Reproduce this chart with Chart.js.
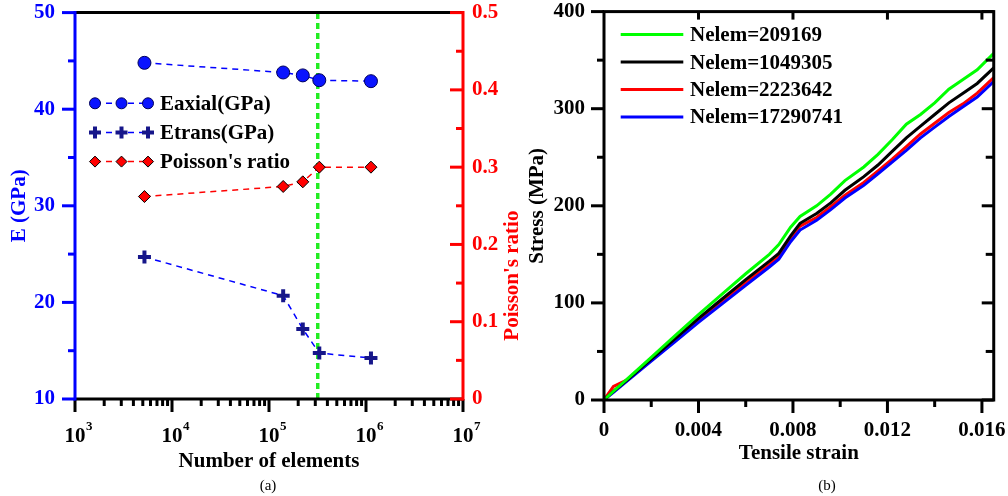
<!DOCTYPE html>
<html>
<head>
<meta charset="utf-8">
<script src="https://cdn.jsdelivr.net/npm/chart.js@4"></script>
<style>
html, body { margin: 0; padding: 0; background: #fff; }
body { width: 1008px; height: 496px; position: relative; overflow: hidden; font-family: "Liberation Serif", "Times New Roman", serif; }
#wrapA { position: absolute; left: 0; top: -20px; width: 530px; height: 516px; }
#wrapB { position: absolute; left: 520px; top: -20px; width: 504px; height: 516px; }
.cap { position: absolute; top: 478px; font-size: 15px; line-height: 15px; transform: translateX(-50%); }
</style>
</head>
<body>
<div id="wrapA"><canvas id="convChart"></canvas></div>
<div id="wrapB"><canvas id="stressChart"></canvas></div>
<div class="cap" style="left:268px">(a)</div>
<div class="cap" style="left:827px">(b)</div>
<script>
const SERIF = '"Liberation Serif", "Times New Roman", serif';

// (a) moduli and Poisson's ratio against mesh size
const nElements = [5200, 140000, 223000, 330000, 1125000];
const eAxial = [44.8, 43.8, 43.5, 43.0, 42.9];
const eTrans = [24.7, 20.7, 17.25, 14.75, 14.25];
const poisson = [0.262, 0.275, 0.281, 0.300, 0.300];
const chosenMesh = 318000;
const xDecades = [1e3, 1e4, 1e5, 1e6, 1e7];
const eTicks = [10, 20, 30, 40, 50];
const nuTicks = [0, 0.1, 0.2, 0.3, 0.4, 0.5];

// (b) stress-strain curves for each mesh
const meshLabels = ['Nelem=209169', 'Nelem=1049305', 'Nelem=2223642', 'Nelem=17290741'];
const meshColors = ['#00ff00', '#000000', '#ff0000', '#0000ff'];
const strain = [0, 0.0004, 0.001, 0.002, 0.003, 0.004, 0.005, 0.006, 0.007, 0.0074, 0.0079, 0.0083,
  0.009, 0.0096, 0.0102, 0.011, 0.0116, 0.0122, 0.0128, 0.0134, 0.014, 0.0146, 0.0152, 0.0158, 0.0165];
const stress209169 = [0, 9, 22, 44, 66, 88, 109, 130, 150, 160, 178, 189, 200, 212, 226, 240, 253, 268, 284, 294, 306, 320, 330, 340, 357];
const stress1049305 = [0, 9, 21, 42, 63, 84, 104, 124, 143, 151, 169, 182, 192, 203, 216, 230, 242, 256, 270, 282, 294, 306, 316, 326, 342];
const stress2223642 = [0, 14, 21, 41, 62, 82, 102, 121, 140, 148, 166, 179, 188, 199, 211, 224, 236, 248, 261, 274, 285, 296, 305, 316, 332];
const stress17290741 = [0, 8, 20, 40, 60, 80, 99, 118, 137, 145, 163, 175, 185, 196, 208, 221, 233, 245, 257, 270, 281, 292, 302, 312, 328];
const strainTicks = [0, 0.004, 0.008, 0.012, 0.016];
const stressTicks = [0, 100, 200, 300, 400];

const pts = (xs, ys) => xs.map((x, i) => ({x: x, y: ys[i]}));
const boldFont = size => ({family: SERIF, size: size, weight: 'bold'});

function seg(ctx, x1, y1, x2, y2) {
  ctx.beginPath();
  ctx.moveTo(x1, y1);
  ctx.lineTo(x2, y2);
  ctx.stroke();
}

function marker(ctx, ds, x, y, r) {
  ctx.fillStyle = ds.pointBackgroundColor;
  ctx.strokeStyle = ds.pointBorderColor;
  ctx.lineWidth = ds.pointBorderWidth;
  Chart.helpers.drawPoint(ctx, {pointStyle: ds.pointStyle, radius: r, borderWidth: ds.pointBorderWidth, rotation: 0}, x, y);
}

const convFrame = {
  id: 'convFrame',
  afterDraw(chart) {
    const {ctx, chartArea: a, scales} = chart;
    const xs = scales.x, ys = scales.y, y1 = scales.y1;
    ctx.save();
    ctx.lineWidth = 3;
    ctx.strokeStyle = '#000';
    seg(ctx, a.left, a.top, a.right, a.top);
    seg(ctx, a.left, a.bottom, a.right, a.bottom);
    xDecades.forEach((d, i) => {
      const px = xs.getPixelForValue(d);
      seg(ctx, px, a.bottom, px, a.bottom + 13);
      if (i < xDecades.length - 1) {
        for (let m = 2; m < 10; m++) {
          const p = xs.getPixelForValue(d * m);
          seg(ctx, p, a.bottom, p, a.bottom + 7);
        }
      }
    });
    // blue E axis, ticks outward
    ctx.strokeStyle = '#0000ff';
    seg(ctx, a.left, a.top - 1.5, a.left, a.bottom + 1.5);
    for (let v = 10; v <= 50; v += 5) {
      const py = ys.getPixelForValue(v);
      seg(ctx, a.left - (v % 10 === 0 ? 13 : 7), py, a.left, py);
    }
    // red Poisson axis, ticks inward
    ctx.strokeStyle = '#ff0000';
    seg(ctx, a.right, a.top - 1.5, a.right, a.bottom + 1.5);
    for (let k = 0; k <= 10; k++) {
      const py = y1.getPixelForValue(k * 0.05);
      seg(ctx, a.right - (k % 2 === 0 ? 13 : 7), py, a.right, py);
    }
    // decade labels with exponent
    ctx.fillStyle = '#000';
    xDecades.forEach(d => {
      const px = xs.getPixelForValue(d);
      ctx.font = 'bold 21px ' + SERIF;
      ctx.textAlign = 'center';
      ctx.textBaseline = 'alphabetic';
      const w = ctx.measureText('10').width;
      ctx.fillText('10', px, a.bottom + 43);
      ctx.font = 'bold 13px ' + SERIF;
      ctx.textAlign = 'left';
      ctx.fillText(String(Math.round(Math.log10(d))), px + w / 2 + 0.5, a.bottom + 31);
    });
    // right axis title, reading upwards
    ctx.save();
    ctx.translate(513, a.top + 263);
    ctx.rotate(-Math.PI / 2);
    ctx.font = 'bold 21px ' + SERIF;
    ctx.fillStyle = '#ff0000';
    ctx.textAlign = 'center';
    ctx.textBaseline = 'middle';
    ctx.fillText("Poisson's ratio", 0, 0);
    ctx.restore();
    // legend
    const rows = [90.7, 120, 149];
    const mx = [95, 121.5, 148];
    for (let i = 0; i < 3; i++) {
      const ds = chart.data.datasets[i];
      const ry = a.top + rows[i];
      ctx.strokeStyle = ds.borderColor;
      ctx.lineWidth = 1.5;
      ctx.setLineDash([6, 5]);
      seg(ctx, mx[0], ry, mx[2], ry);
      ctx.setLineDash([]);
      mx.forEach(x => marker(ctx, ds, x, ry, ds.pointStyle === 'cross' ? 6 : 5.5));
      ctx.font = 'bold 21px ' + SERIF;
      ctx.fillStyle = '#000';
      ctx.textAlign = 'left';
      ctx.textBaseline = 'middle';
      ctx.fillText(ds.label, 160, ry + 1);
    }
    ctx.restore();
  }
};

new Chart(document.getElementById('convChart'), {
  type: 'line',
  data: {
    datasets: [
      {
        label: 'Eaxial(GPa)', data: pts(nElements, eAxial), yAxisID: 'y',
        borderColor: '#0000ff', borderWidth: 1.5, borderDash: [6, 5],
        pointStyle: 'circle', pointRadius: 6.5, pointBackgroundColor: '#0a14ff', pointBorderColor: '#00005a', pointBorderWidth: 1
      },
      {
        label: 'Etrans(GPa)', data: pts(nElements, eTrans), yAxisID: 'y',
        borderColor: '#0000ff', borderWidth: 1.5, borderDash: [6, 5],
        pointStyle: 'cross', pointRadius: 6.5, pointBackgroundColor: '#16168a', pointBorderColor: '#16168a', pointBorderWidth: 4
      },
      {
        label: "Poisson's ratio", data: pts(nElements, poisson), yAxisID: 'y1',
        borderColor: '#ff0000', borderWidth: 1.5, borderDash: [6, 5],
        pointStyle: 'rectRot', pointRadius: 6, pointBackgroundColor: '#ff0000', pointBorderColor: '#000', pointBorderWidth: 1
      },
      {
        label: 'chosen mesh', data: [{x: chosenMesh, y: 10}, {x: chosenMesh, y: 50}], yAxisID: 'y',
        borderColor: '#22ee22', borderWidth: 3.5, borderDash: [6, 4], pointRadius: 0
      }
    ]
  },
  options: {
    responsive: true,
    maintainAspectRatio: false,
    animation: false,
    layout: {padding: {top: 12, left: 0, right: 0, bottom: 0}},
    plugins: {legend: {display: false}, tooltip: {enabled: false}},
    scales: {
      x: {
        type: 'logarithmic', min: 1e3, max: 1e7,
        grid: {display: false, drawTicks: false}, border: {display: false},
        ticks: {display: false},
        afterFit: s => { s.height = 97; },
        title: {display: true, text: 'Number of elements', color: '#000', font: boldFont(21), padding: {top: 0, bottom: 22}}
      },
      y: {
        position: 'left', min: 10, max: 50,
        afterBuildTicks: s => { s.ticks = eTicks.map(v => ({value: v})); },
        grid: {display: false, drawTicks: false}, border: {display: false},
        ticks: {color: '#0000ff', padding: 20, font: boldFont(21)},
        afterFit: s => { s.width = 75; },
        title: {display: true, text: 'E (GPa)', color: '#0000ff', font: boldFont(21), padding: {top: 7, bottom: 0}}
      },
      y1: {
        position: 'right', min: 0, max: 0.5,
        afterBuildTicks: s => { s.ticks = nuTicks.map(v => ({value: v})); },
        grid: {display: false, drawTicks: false}, border: {display: false},
        ticks: {color: '#ff0000', padding: 9, font: boldFont(21), callback: v => v === 0 ? '0' : v.toFixed(1)},
        afterFit: s => { s.width = 67; }
      }
    }
  },
  plugins: [convFrame]
});

const stressFrame = {
  id: 'stressFrame',
  afterDraw(chart) {
    const {ctx, chartArea: a, scales} = chart;
    const xs = scales.x, ys = scales.y;
    ctx.save();
    ctx.strokeStyle = '#000';
    ctx.lineWidth = 3;
    ctx.strokeRect(a.left, a.top, a.right - a.left, a.bottom - a.top);
    for (let v = 0; v <= 400; v += 50) {
      const py = ys.getPixelForValue(v);
      const major = v % 100 === 0;
      seg(ctx, a.left - (major ? 13 : 7), py, a.left, py);
      seg(ctx, a.right - (major ? 12 : 8), py, a.right, py);
    }
    for (let k = 0; k <= 8; k++) {
      const px = xs.getPixelForValue(k * 0.002);
      const major = k % 2 === 0;
      seg(ctx, px, a.bottom, px, a.bottom + (major ? 13 : 7));
      if (major && k > 0) seg(ctx, px, a.top, px, a.top + 8);
    }
    // legend
    const rows = [23, 50.5, 78, 105.3];
    chart.data.datasets.forEach((ds, i) => {
      const ry = a.top + rows[i];
      ctx.strokeStyle = ds.borderColor;
      ctx.lineWidth = 3;
      seg(ctx, 100.7, ry, 163.3, ry);
      ctx.font = 'bold 21px ' + SERIF;
      ctx.fillStyle = '#000';
      ctx.textAlign = 'left';
      ctx.textBaseline = 'middle';
      ctx.fillText(ds.label, 170, ry + 1);
    });
    ctx.restore();
  }
};

const stressSeries = [stress209169, stress1049305, stress2223642, stress17290741];
const drawOrder = [0, 1, 3, 2];

new Chart(document.getElementById('stressChart'), {
  type: 'line',
  data: {
    datasets: meshLabels.map((label, i) => ({
      label: label,
      data: pts(strain, stressSeries[i]),
      borderColor: meshColors[i],
      borderWidth: 3,
      pointRadius: 0,
      tension: 0,
      order: drawOrder[i]
    }))
  },
  options: {
    responsive: true,
    maintainAspectRatio: false,
    animation: false,
    layout: {padding: {top: 12, left: 0, right: 15, bottom: 0}},
    plugins: {legend: {display: false}, tooltip: {enabled: false}},
    scales: {
      x: {
        type: 'linear', min: 0, max: 0.0165,
        afterBuildTicks: s => { s.ticks = strainTicks.map(v => ({value: v})); },
        grid: {display: false, drawTicks: false}, border: {display: false},
        ticks: {color: '#000', padding: 18, font: boldFont(21), maxRotation: 0, callback: v => v === 0 ? '0' : v.toFixed(3)},
        afterFit: s => { s.height = 96; },
        title: {display: true, text: 'Tensile strain', color: '#000', font: boldFont(21), padding: {top: 0, bottom: 30}}
      },
      y: {
        min: 0, max: 400,
        afterBuildTicks: s => { s.ticks = stressTicks.map(v => ({value: v})); },
        grid: {display: false, drawTicks: false}, border: {display: false},
        ticks: {color: '#000', padding: 19, font: boldFont(21)},
        afterFit: s => { s.width = 84; },
        title: {display: true, text: 'Stress (MPa)', color: '#000', font: boldFont(21), padding: {top: 5, bottom: 0}}
      }
    }
  },
  plugins: [stressFrame]
});
</script>
</body>
</html>
